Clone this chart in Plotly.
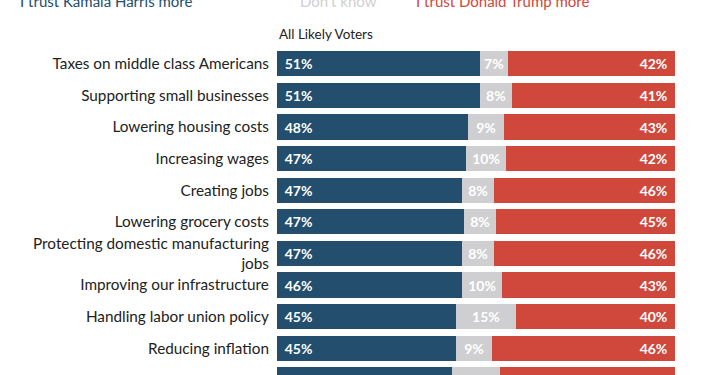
import plotly.graph_objects as go

categories = [
    "Taxes on middle class Americans",
    "Supporting small businesses",
    "Lowering housing costs",
    "Increasing wages",
    "Creating jobs",
    "Lowering grocery costs",
    "Protecting domestic manufacturing<br>jobs",
    "Improving our infrastructure",
    "Handling labor union policy",
    "Reducing inflation",
    "Reducing the national debt",
]
harris = [51, 51, 48, 47, 47, 47, 47, 46, 45, 45, 44]
dont_know = [7, 8, 9, 10, 8, 8, 8, 10, 15, 9, 12]
trump = [42, 41, 43, 42, 46, 45, 46, 43, 40, 46, 44]

series_names = ["I trust Kamala Harris more", "Don't know", "I trust Donald Trump more"]
BLUE = "#234e6d"
GRAY = "#cfcfd1"
RED = "#d0473c"
FONT = "Lato"
PAD = "\u2004"

W, H = 710, 375
ML, MR, MT, MB = 277, 35, 48, 0
plot_h = H - MT - MB
row_px = 31.6
y_bottom = -0.5 + plot_h / row_px

fig = go.Figure()
for name, vals, color, anchor in [
    (series_names[0], harris, BLUE, "start"),
    (series_names[1], dont_know, GRAY, "middle"),
    (series_names[2], trump, RED, "end"),
]:
    if anchor == "start":
        labels = [f"{PAD}{v}%" for v in vals]
    elif anchor == "end":
        labels = [f"{v}%{PAD}" for v in vals]
    else:
        labels = [f"{v}%" for v in vals]
    fig.add_trace(go.Bar(
        y=list(range(len(categories))),
        x=vals,
        orientation="h",
        name=name,
        marker=dict(color=color, line=dict(width=0)),
        text=labels,
        textposition="inside",
        insidetextanchor=anchor,
        textfont=dict(family=FONT, size=14, color="white", weight="bold"),
        hoverinfo="skip",
    ))

fig.update_layout(
    barmode="stack",
    barnorm="percent",
    bargap=0.2,
    width=W,
    height=H,
    margin=dict(l=ML, r=MR, t=MT, b=MB, pad=0),
    plot_bgcolor="white",
    paper_bgcolor="white",
    showlegend=False,
    font=dict(family=FONT, size=15.3, color="#222222"),
    uniformtext=dict(minsize=13, mode="show"),
)
fig.update_xaxes(range=[0, 100], visible=False, fixedrange=True)
fig.update_yaxes(
    range=[y_bottom, -0.5],
    fixedrange=True,
    tickmode="array",
    tickvals=list(range(len(categories))),
    ticktext=categories,
    ticks="outside",
    ticklen=4,
    tickcolor="rgba(0,0,0,0)",
    showgrid=False,
    zeroline=False,
    showline=False,
    tickfont=dict(family=FONT, size=15.3, color="#222222"),
)

def py(px):
    return 1 + (MT - px) / plot_h

fig.add_annotation(text="All Likely Voters", xref="paper", yref="paper", x=0, y=py(34),
                   xanchor="left", yanchor="middle", showarrow=False,
                   font=dict(family=FONT, size=13.5, color="#222222"))
for txt, xpx, color in [(series_names[0], 18, BLUE), (series_names[1], 298, GRAY), (series_names[2], 414, RED)]:
    fig.add_annotation(text=txt, xref="paper", yref="paper", x=(xpx - ML) / (W - ML - MR), y=py(1),
                       xanchor="left", yanchor="middle", showarrow=False,
                       font=dict(family=FONT, size=15, color=color))

fig.write_html("out.html", config={"displayModeBar": False},
               post_script="document.body.style.margin='0';document.body.style.overflow='hidden';")
